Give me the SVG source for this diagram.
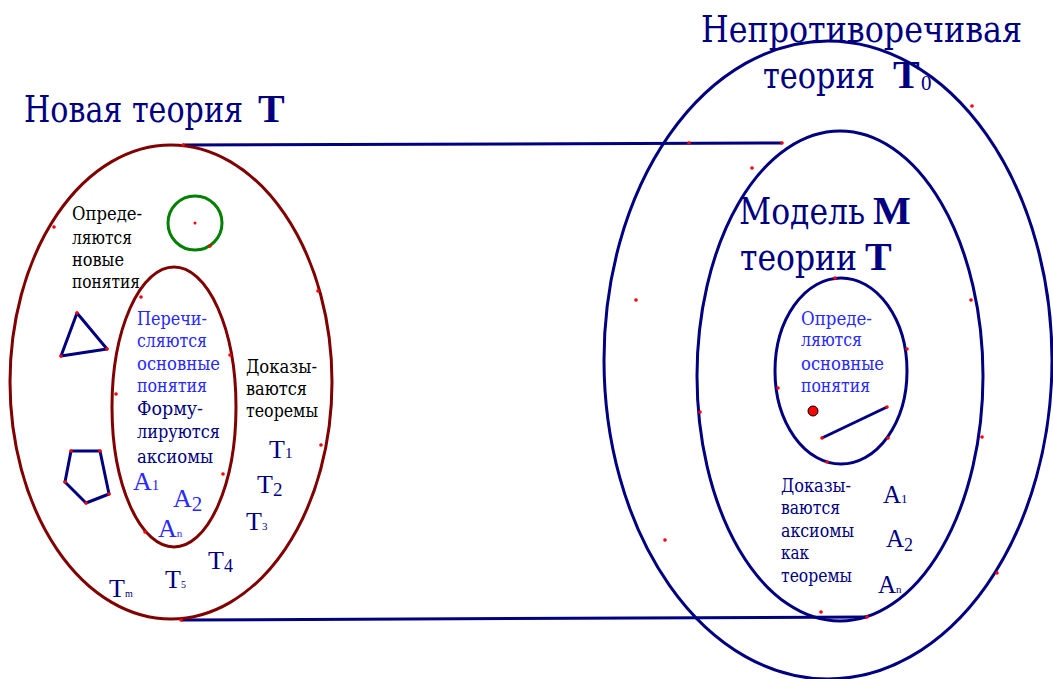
<svg xmlns="http://www.w3.org/2000/svg" width="1053" height="679" viewBox="0 0 1053 679">
<style>
.c{font-family:"DejaVu Serif",serif}
.l{font-family:"Liberation Serif","Times New Roman",serif}
.big{font-size:37px;fill:#000080}
.bb{font-size:40px;font-weight:bold;fill:#000080}
.sm{font-size:18px}
.blk{fill:#000}
.nav{fill:#000080}
.blu{fill:#2828ff}
.sym{font-size:26px}
.mr{fill:none;stroke:#800000;stroke-width:3}
.nv{fill:none;stroke:#000080;stroke-width:3}
.pt{fill:#ff0000}
</style>
<rect width="1053" height="679" fill="#fff"/>
<g id="connectors">
<line x1="183" y1="145" x2="782" y2="143" stroke="#000080" stroke-width="3"/>
<line x1="181" y1="620" x2="867" y2="617" stroke="#000080" stroke-width="3"/>
</g>
<g id="new-theory">
<ellipse class="mr" cx="171" cy="382" rx="161" ry="237"/>
<text class="c big" x="24" y="122" textLength="219" lengthAdjust="spacingAndGlyphs">Новая теория</text>
<text class="l bb" x="258" y="122">T</text>
<circle cx="183" cy="145" r="1.8" class="pt"/><circle cx="54" cy="227" r="1.8" class="pt"/><circle cx="318" cy="291" r="1.8" class="pt"/><circle cx="321" cy="445" r="1.8" class="pt"/><circle cx="181" cy="620" r="1.8" class="pt"/>
</g>
<g id="axioms">
<ellipse class="mr" cx="174" cy="407" rx="62" ry="140"/>
<circle cx="141" cy="297" r="1.8" class="pt"/><circle cx="116" cy="394" r="1.8" class="pt"/><circle cx="230" cy="355" r="1.8" class="pt"/><circle cx="223" cy="474" r="1.8" class="pt"/><circle cx="145" cy="532" r="1.8" class="pt"/>
<g class="c sm blu">
<text x="137" y="325" textLength="70" lengthAdjust="spacingAndGlyphs">Перечи-</text>
<text x="137" y="347" textLength="70" lengthAdjust="spacingAndGlyphs">сляются</text>
<text x="137" y="370" textLength="83" lengthAdjust="spacingAndGlyphs">основные</text>
<text x="137" y="392" textLength="70" lengthAdjust="spacingAndGlyphs">понятия</text>
</g>
<g class="c sm nav">
<text x="137" y="415" textLength="66" lengthAdjust="spacingAndGlyphs">Форму-</text>
<text x="137" y="438" textLength="83" lengthAdjust="spacingAndGlyphs">лируются</text>
<text x="137" y="463" textLength="76" lengthAdjust="spacingAndGlyphs">аксиомы</text>
</g>
<text class="l sym blu" x="133" y="490">A<tspan font-size="15">1</tspan></text>
<text class="l sym blu" x="173" y="507">A<tspan font-size="21" dy="4">2</tspan></text>
<text class="l sym blu" x="158" y="537">A<tspan font-size="11">n</tspan></text>
</g>
<g id="new-concepts">
<circle cx="195" cy="223" r="27" fill="none" stroke="#008000" stroke-width="3"/>
<circle cx="195" cy="223" r="1.5" class="pt"/><circle cx="210" cy="246" r="1.8" class="pt"/>
<g class="c sm blk">
<text x="72" y="220" textLength="70" lengthAdjust="spacingAndGlyphs">Опреде-</text>
<text x="72" y="244" textLength="60" lengthAdjust="spacingAndGlyphs">ляются</text>
<text x="72" y="266" textLength="52" lengthAdjust="spacingAndGlyphs">новые</text>
<text x="72" y="288" textLength="68" lengthAdjust="spacingAndGlyphs">понятия</text>
</g>
<polygon points="77,313 107,349 61,356" fill="none" stroke="#000080" stroke-width="3" stroke-linejoin="round"/>
<circle cx="77" cy="313" r="1.8" class="pt"/><circle cx="107" cy="349" r="1.8" class="pt"/><circle cx="61" cy="356" r="1.8" class="pt"/>
<polygon points="71,451 100,451 109,494 86,503 65,482" fill="none" stroke="#000080" stroke-width="3" stroke-linejoin="round"/>
<circle cx="71" cy="451" r="1.8" class="pt"/><circle cx="100" cy="451" r="1.8" class="pt"/><circle cx="109" cy="494" r="1.8" class="pt"/><circle cx="86" cy="503" r="1.8" class="pt"/><circle cx="65" cy="482" r="1.8" class="pt"/>
</g>
<g id="theorems">
<g class="c sm blk">
<text x="246" y="373" textLength="71" lengthAdjust="spacingAndGlyphs">Доказы-</text>
<text x="246" y="395" textLength="61" lengthAdjust="spacingAndGlyphs">ваются</text>
<text x="246" y="417" textLength="72" lengthAdjust="spacingAndGlyphs">теоремы</text>
</g>
<text class="l sym nav" x="269" y="458">T<tspan font-size="15">1</tspan></text>
<text class="l sym nav" x="257" y="493">T<tspan font-size="19" dy="3">2</tspan></text>
<text class="l sym nav" x="246" y="530">T<tspan font-size="11">3</tspan></text>
<text class="l sym nav" x="208" y="569">T<tspan font-size="18" dy="3">4</tspan></text>
<text class="l sym nav" x="165" y="588">T<tspan font-size="10">5</tspan></text>
<text class="l sym nav" x="109" y="597">T<tspan font-size="10">m</tspan></text>
</g>
<g id="consistent-theory">
<ellipse class="nv" cx="828" cy="360" rx="224" ry="319"/>
<text class="c big" x="701" y="42" textLength="321" lengthAdjust="spacingAndGlyphs">Непротиворечивая</text>
<text class="c big" x="763" y="88" textLength="112" lengthAdjust="spacingAndGlyphs">теория</text>
<text class="l bb" x="893" y="88">T</text>
<text class="l" font-size="21" fill="#000080" x="921" y="90">0</text>
<circle cx="689" cy="143" r="1.8" class="pt"/><circle cx="972" cy="106" r="1.8" class="pt"/><circle cx="636" cy="300" r="1.8" class="pt"/><circle cx="665" cy="540" r="1.8" class="pt"/><circle cx="997" cy="573" r="1.8" class="pt"/>
</g>
<g id="model">
<ellipse class="nv" cx="840" cy="376" rx="143" ry="245"/>
<text class="c big" x="739" y="224" textLength="126" lengthAdjust="spacingAndGlyphs">Модель</text>
<text class="l bb" x="873" y="224" font-size="42">M</text>
<text class="c big" x="740" y="270" textLength="117" lengthAdjust="spacingAndGlyphs">теории</text>
<text class="l bb" x="865" y="270">T</text>
<circle cx="782" cy="143" r="1.8" class="pt"/><circle cx="752" cy="168" r="1.8" class="pt"/><circle cx="971" cy="300" r="1.8" class="pt"/><circle cx="982" cy="437" r="1.8" class="pt"/><circle cx="700" cy="412" r="1.8" class="pt"/><circle cx="821" cy="612" r="1.8" class="pt"/><circle cx="867" cy="617" r="1.8" class="pt"/>
<g class="c sm nav">
<text x="781" y="492" textLength="70" lengthAdjust="spacingAndGlyphs">Доказы-</text>
<text x="781" y="514" textLength="59" lengthAdjust="spacingAndGlyphs">ваются</text>
<text x="781" y="537" textLength="73" lengthAdjust="spacingAndGlyphs">аксиомы</text>
<text x="781" y="559" textLength="28" lengthAdjust="spacingAndGlyphs">как</text>
<text x="781" y="582" textLength="71" lengthAdjust="spacingAndGlyphs">теоремы</text>
</g>
<text class="l nav" font-size="25" x="883" y="503">A<tspan font-size="13">1</tspan></text>
<text class="l nav" font-size="25" x="886" y="547">A<tspan font-size="18" dy="4">2</tspan></text>
<text class="l nav" font-size="25" x="878" y="593">A<tspan font-size="11">n</tspan></text>
</g>
<g id="model-concepts">
<ellipse class="nv" cx="841" cy="371" rx="66" ry="93"/>
<circle cx="835" cy="278" r="1.8" class="pt"/><circle cx="907" cy="349" r="1.8" class="pt"/><circle cx="778" cy="388" r="1.8" class="pt"/><circle cx="888" cy="438" r="1.8" class="pt"/><circle cx="827" cy="462" r="1.8" class="pt"/>
<g class="c sm blu">
<text x="801" y="325" textLength="71" lengthAdjust="spacingAndGlyphs">Опреде-</text>
<text x="801" y="346" textLength="61" lengthAdjust="spacingAndGlyphs">ляются</text>
<text x="801" y="370" textLength="83" lengthAdjust="spacingAndGlyphs">основные</text>
<text x="801" y="392" textLength="69" lengthAdjust="spacingAndGlyphs">понятия</text>
</g>
<circle cx="813" cy="411" r="5" fill="#ff0000" stroke="#000" stroke-width="1"/>
<line x1="822" y1="438" x2="887" y2="407" stroke="#000080" stroke-width="3"/>
<circle cx="822" cy="438" r="1.8" class="pt"/><circle cx="887" cy="407" r="1.8" class="pt"/>
</g>
</svg>
